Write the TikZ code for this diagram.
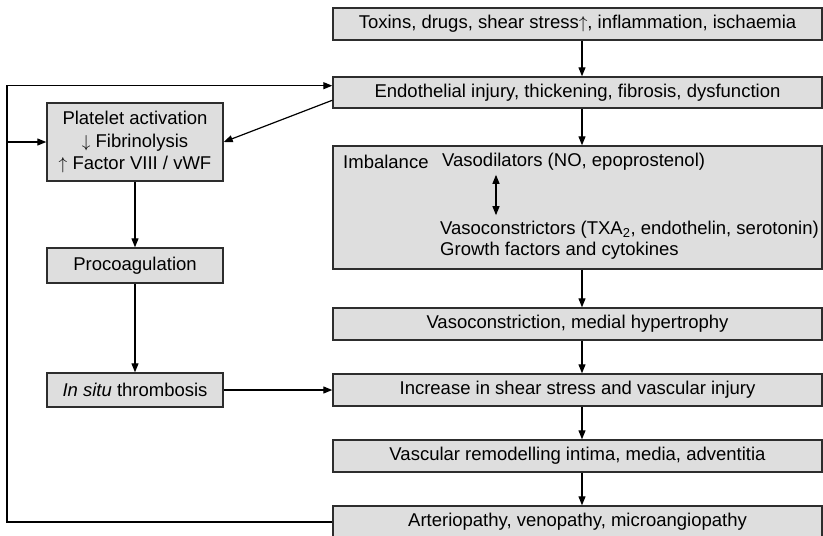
\documentclass[tikz,border=0pt]{standalone}
\usepackage{fontspec}
\setmainfont{Liberation Sans}
\usepackage{tikz}
\usetikzlibrary{arrows.meta, calc}
\definecolor{boxgray}{RGB}{222,222,222}
\definecolor{edgegray}{RGB}{45,45,45}

\begin{document}
\begin{tikzpicture}[
    x=1pt, y=-1pt,
    box/.style={draw=edgegray, line width=1.4pt, fill=boxgray, inner sep=0pt, font=\fontsize{18.5}{22.5}\selectfont},
    wide/.style={box, minimum width=489pt, minimum height=32pt},
    side/.style={box, minimum width=176pt, align=center},
    txt/.style={inner sep=0pt, anchor=west, font=\fontsize{18.5}{21}\selectfont},
    link/.style={line width=1.2pt, -{Triangle[length=9pt, width=7pt]}}
]
    \useasboundingbox (0,0) rectangle (823,536);

    % Main chain
    \node[wide] (toxins) at (577.5,24) {Toxins, drugs, shear stress$\uparrow$, inflammation, ischaemia};
    \node[wide, minimum height=31pt] (endo) at (577.5,92.5) {Endothelial injury, thickening, fibrosis, dysfunction};
    \node[wide, minimum height=123pt] (imbal) at (577.5,207.5) {};
    \node[wide] (vasocon) at (577.5,324) {Vasoconstriction, medial hypertrophy};
    \node[wide] (shear) at (577.5,390) {Increase in shear stress and vascular injury};
    \node[wide] (remodel) at (577.5,456) {Vascular remodelling intima, media, adventitia};
    \node[wide] (pathy) at (577.5,522) {Arteriopathy, venopathy, microangiopathy};

    % Imbalance contents
    \node[txt] (imb) at (343,162) {Imbalance};
    \node[txt] (dil) at (442,162) {Vasodilators (NO, epoprostenol)};
    \node[txt, align=left] (con) at (440,240.5) {Vasoconstrictors (TXA\textsubscript{2}, endothelin, serotonin)\\Growth factors and cytokines};
    \coordinate (swap) at (496,0);
    \draw[line width=1.2pt, {Triangle[length=9pt, width=7pt]}-{Triangle[length=9pt, width=7pt]}, shorten <=4pt, shorten >=6pt] (dil.south -| swap) -- (con.north -| swap);

    % Coagulation side
    \node[side, minimum height=78pt] (platelet) at (135,142) {Platelet activation\\$\downarrow$ Fibrinolysis\\$\uparrow$ Factor VIII / vWF};
    \node[side, minimum height=35pt] (procoag) at (135,265.5) {Procoagulation};
    \node[side, minimum height=34pt] (thromb) at (135,390) {\textit{In situ} thrombosis};

    % Arrows
    \coordinate (spine) at (582,0);
    \foreach \a/\b in {toxins/endo, endo/imbal, imbal/vasocon, vasocon/shear, shear/remodel, remodel/pathy}
        \draw[link] (\a.south -| spine) -- (\b.north -| spine);
    \draw[link] (platelet.south) -- (procoag.north);
    \draw[link] (procoag.south) -- (thromb.north);
    \draw[link] (thromb.east) -- (shear.west);
    \draw[link] ($(endo.north west)!0.74!(endo.south west)$) -- (platelet.east);

    % Feedback loop
    \coordinate (loop) at (7,0);
    \coordinate (entry) at ($(endo.north west)!0.29!(endo.south west)$);
    \draw[link] (pathy.west) -| (loop |- entry) -- (entry);
    \draw[link] (loop |- platelet.west) -- (platelet.west);
\end{tikzpicture}
\end{document}
